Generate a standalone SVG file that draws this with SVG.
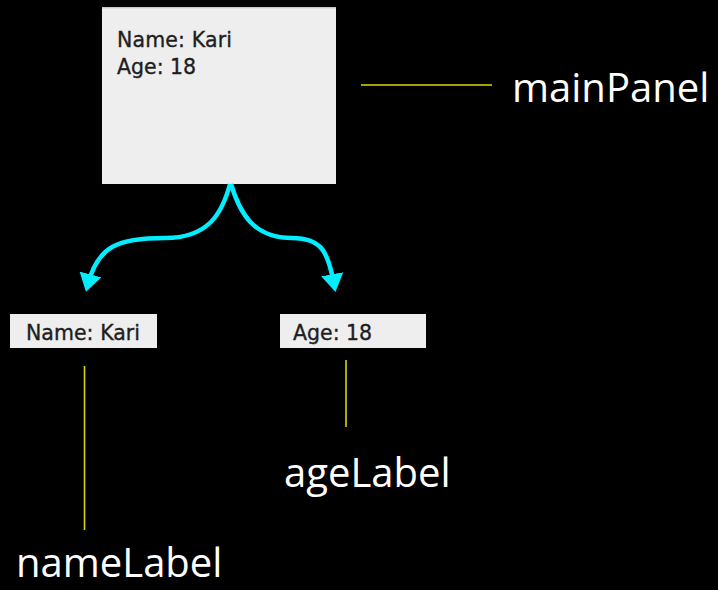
<svg xmlns="http://www.w3.org/2000/svg" width="718" height="590" viewBox="0 0 718 590">
<style>
.panel{fill:#eeeeee}
.ui{font-family:"DejaVu Sans","Liberation Sans",sans-serif;font-size:20.5px;fill:#1e1e1e;stroke:#1e1e1e;stroke-width:0.35}
.lbl{font-family:"Open Sans","Noto Sans",sans-serif;font-size:40px;fill:#ffffff}
.lead{stroke:#d8d800;stroke-width:1.6;fill:none}
.conn{stroke:#00eeff;stroke-width:4.5;fill:none}
</style>
<defs>
<marker id="ah" markerWidth="5" markerHeight="5" refX="2.2" refY="2.5" orient="auto" markerUnits="strokeWidth">
<path d="M0,0 L4,2.5 L0,5 Z" fill="#00eeff"/>
</marker>
</defs>
<rect width="718" height="590" fill="#000000"/>
<g id="mainPanel">
<rect class="panel" x="102" y="7" width="234" height="177"/>
<rect x="102" y="7" width="234" height="1.5" fill="#c8c8c8"/>
<text class="ui" x="117" y="47" textLength="115">Name: Kari</text>
<text class="ui" x="117" y="74">Age: 18</text>
</g>
<g id="nameLabelBox">
<rect class="panel" x="10" y="314" width="147" height="34"/>
<text class="ui" x="26" y="340" textLength="114">Name: Kari</text>
</g>
<g id="ageLabelBox">
<rect class="panel" x="280" y="314" width="146" height="34"/>
<text class="ui" x="293" y="340">Age: 18</text>
</g>
<g id="connectors">
<path class="conn" d="M230,184 C222,214 208,238 165,238 C118,238 98,246 88,284" marker-end="url(#ah)"/>
<path class="conn" d="M231,184 C240,214 254,238 292,238 C322,238 328,252 334,284" marker-end="url(#ah)"/>
<line class="lead" x1="361" y1="85" x2="492" y2="85"/>
<line class="lead" x1="84.5" y1="366" x2="84.5" y2="530"/>
<line class="lead" x1="346" y1="360" x2="346" y2="427"/>
</g>
<g id="labels">
<text class="lbl" x="512" y="102">mainPanel</text>
<text class="lbl" x="284" y="487">ageLabel</text>
<text class="lbl" x="16" y="577">nameLabel</text>
</g>
</svg>
